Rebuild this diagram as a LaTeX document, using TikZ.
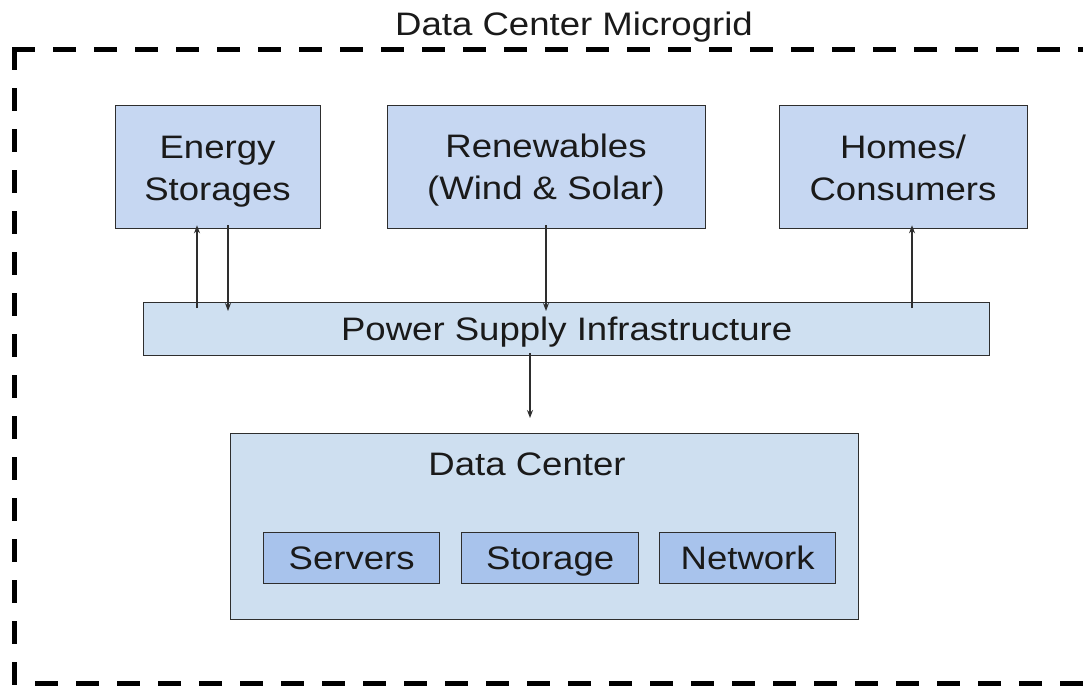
\documentclass[tikz,border=0pt]{standalone}
\usepackage{fontspec}
\setmainfont{Liberation Sans}[FakeStretch=1.125]
\usetikzlibrary{arrows.meta}
\definecolor{topfill}{HTML}{C6D7F2}
\definecolor{psfill}{HTML}{CFE0F1}
\definecolor{dcfill}{HTML}{CEDFF0}
\definecolor{infill}{HTML}{A8C3EC}
\definecolor{edge}{HTML}{2E2E2E}
\definecolor{txt}{HTML}{1A1A1A}
\begin{document}
\begin{tikzpicture}[x=1pt,y=-1pt,
  box/.style={draw=edge, line width=1.3pt, anchor=north west, inner sep=0pt,
    text=txt, font=\fontsize{32.5}{42}\selectfont, text height=23.3pt, text depth=0pt},
  lbl/.style={text=txt, inner sep=0pt, anchor=base, font=\fontsize{32.5}{42}\selectfont},
  arr/.style={draw=edge, line width=1.2pt, -{Stealth[length=8pt,width=6pt]}},
  frame/.style={draw=black, line width=5pt, line cap=rect, dash pattern=on 18pt off 23pt}]
\useasboundingbox (0,0) rectangle (1083,694);
\clip (0,0) rectangle (1083,694);
\fill[white] (0,0) rectangle (1083,694);
% outer frame (right side lies beyond the picture)
\coordinate (fTL) at (14.5,49.5);
\coordinate (fTR) at (1130,49.5);
\coordinate (fBL) at (14.5,683);
\coordinate (fBR) at (1130,683);
\draw[frame] (fTL) -- (fTR);
\draw[frame] (fTL) -- (fBL) -- (fBR);
\node[lbl] (title) at (574,35) {Data Center Microgrid};
% top boxes
\node[box, fill=topfill, minimum width=205pt, minimum height=123pt] (es) at (115,105) {};
\node[lbl] (es1) at (217.5,158) {Energy};
\node[lbl] (es2) at (217.5,200) {Storages};
\node[box, fill=topfill, minimum width=318pt, minimum height=123pt] (rw) at (387,105) {};
\node[lbl] (rw1) at (546,157) {Renewables};
\node[lbl] (rw2) at (546,199) {(Wind \& Solar)};
\node[box, fill=topfill, minimum width=248pt, minimum height=123pt] (hc) at (779,105) {};
\node[lbl] (hc1) at (903,158) {Homes/};
\node[lbl] (hc2) at (903,200) {Consumers};
% power supply
\node[box, fill=psfill, minimum width=846pt, minimum height=53pt] (ps) at (143,302) {Power Supply Infrastructure};
% data center
\node[box, fill=dcfill, minimum width=628pt, minimum height=186pt] (dc) at (230,433) {};
\node[lbl] (dct) at (527,475) {Data Center};
\node[box, fill=infill, minimum width=176pt, minimum height=51pt] (sv) at (263,532) {Servers};
\node[box, fill=infill, minimum width=177pt, minimum height=51pt] (st) at (461,532) {Storage};
\node[box, fill=infill, minimum width=176pt, minimum height=51pt] (nw) at (659,532) {Network};
% arrows
\draw[arr] ([yshift=-6pt]ps.north -| 197,0) -- ([yshift=4pt]es.south -| 197,0);
\draw[arr] ([yshift=4pt]es.south -| 228,0) -- ([yshift=-9pt]ps.north -| 228,0);
\draw[arr] ([yshift=4pt]rw.south -| 546,0) -- ([yshift=-9pt]ps.north -| 546,0);
\draw[arr] ([yshift=-6pt]ps.north -| 912,0) -- ([yshift=4pt]hc.south -| 912,0);
\draw[arr] ([yshift=3pt]ps.south -| 530,0) -- ([yshift=15pt]dc.north -| 530,0);
\end{tikzpicture}
\end{document}
